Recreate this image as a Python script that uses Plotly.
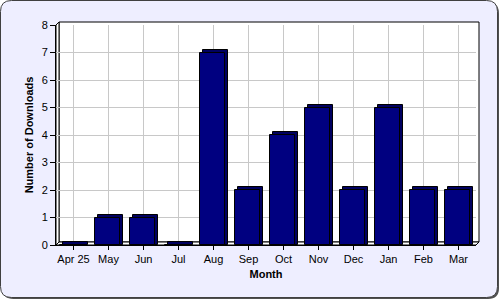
import plotly.graph_objects as go

months = ["Apr 25", "May", "Jun", "Jul", "Aug", "Sep", "Oct", "Nov", "Dec", "Jan", "Feb", "Mar"]
downloads = [0, 1, 1, 0, 7, 2, 4, 5, 2, 5, 2, 2]
y_ticks = [0, 1, 2, 3, 4, 5, 6, 7, 8]

W, H = 500, 300
L, R, T, B = 56, 21, 22, 55
PW, PH = W - L - R, H - T - B
DEPTH = 3  # pixels of 3D depth
CAT_PX = 420 / len(months)
UNIT_PX = 220 / 8

def px(x):
    return (x - L) / PW

def py(y):
    return (H - B - y) / PH

font = dict(family="Liberation Sans, Arial, sans-serif", size=11, color="black")

bar_w = 0.72
dx = DEPTH / CAT_PX
dy = DEPTH / UNIT_PX

fig = go.Figure()
fig.add_trace(go.Bar(
    x=months, y=[v + dy for v in downloads], width=bar_w, offset=-bar_w / 2 + dx - 0.03,
    marker=dict(color="#000060", line=dict(color="black", width=1)),
    xaxis="x", yaxis="y", hoverinfo="skip", showlegend=False,
))
fig.add_trace(go.Bar(
    x=months, y=downloads, width=bar_w, offset=-bar_w / 2 - 0.03,
    marker=dict(color="#000080", line=dict(color="black", width=1)),
    xaxis="x", yaxis="y", showlegend=False,
))
# invisible trace to activate back-wall axes
fig.add_trace(go.Scatter(x=months, y=downloads, mode="none", xaxis="x2", yaxis="y2",
                         hoverinfo="skip", showlegend=False))

def rrect(x0, y0, x1, y1, r):
    return (f"M {px(x0 + r)},{py(y0)} L {px(x1 - r)},{py(y0)} "
            f"Q {px(x1)},{py(y0)} {px(x1)},{py(y0 + r)} L {px(x1)},{py(y1 - r)} "
            f"Q {px(x1)},{py(y1)} {px(x1 - r)},{py(y1)} L {px(x0 + r)},{py(y1)} "
            f"Q {px(x0)},{py(y1)} {px(x0)},{py(y1 - r)} L {px(x0)},{py(y0 + r)} "
            f"Q {px(x0)},{py(y0)} {px(x0 + r)},{py(y0)} Z")

def poly(pts):
    return "M " + " L ".join(f"{px(a)},{py(b)}" for a, b in pts) + " Z"

shapes = [
    dict(type="path", xref="paper", yref="paper", path=rrect(2.5, 2.5, 499, 299, 11),
         fillcolor="#505050", line=dict(width=0), layer="below"),
    dict(type="path", xref="paper", yref="paper", path=rrect(0.5, 0.5, 497.5, 297.5, 11),
         fillcolor="#EEEEFF", line=dict(color="#404040", width=1), layer="below"),
    # back wall
    dict(type="path", xref="paper", yref="paper",
         path=poly([(59, 22), (479, 22), (479, 242), (59, 242)]),
         fillcolor="white", line=dict(color="black", width=1), layer="below"),
    # left wall
    dict(type="path", xref="paper", yref="paper",
         path=poly([(56, 25), (59, 22), (59, 242), (56, 245)]),
         fillcolor="white", line=dict(color="black", width=1), layer="below"),
    # floor
    dict(type="path", xref="paper", yref="paper",
         path=poly([(56, 245), (476, 245), (479, 242), (59, 242)]),
         fillcolor="white", line=dict(color="black", width=1), layer="below"),
]

fig.update_layout(
    width=W, height=H, margin=dict(l=L, r=R, t=T, b=B, pad=0),
    paper_bgcolor="white", plot_bgcolor="rgba(0,0,0,0)",
    barmode="overlay", bargap=0, font=font, shapes=shapes,
    xaxis=dict(type="category", categoryorder="array", categoryarray=months,
               range=[-0.5, len(months) - 0.5], domain=[0, 420 / PW],
               showgrid=False, showline=True, linecolor="black", linewidth=1,
               ticks="outside", ticklen=4, tickcolor="black", tickfont=font,
               title=dict(text="<b>Month</b>", font=font, standoff=6), fixedrange=True),
    yaxis=dict(range=[0, 8], domain=[0, 220 / PH], tickvals=y_ticks,
               showgrid=False, showline=True, linecolor="black", linewidth=1,
               ticks="outside", ticklen=5, tickcolor="black", tickfont=font,
               zeroline=False,
               title=dict(text="<b>Number of Downloads</b>", font=font, standoff=5),
               fixedrange=True),
    xaxis2=dict(type="category", categoryorder="array", categoryarray=months,
                range=[-0.5, len(months) - 0.5], domain=[DEPTH / PW, 1],
                overlaying="x", anchor="y2", showgrid=True, gridcolor="#C8C8C8",
                gridwidth=1, showticklabels=False, ticks="", showline=False),
    yaxis2=dict(range=[0, 8], domain=[DEPTH / PH, 1], tickvals=y_ticks,
                overlaying="y", anchor="x2", showgrid=True, gridcolor="#C8C8C8",
                gridwidth=1, showticklabels=False, ticks="", showline=False,
                zeroline=False),
)

fig.write_html("out.html")
